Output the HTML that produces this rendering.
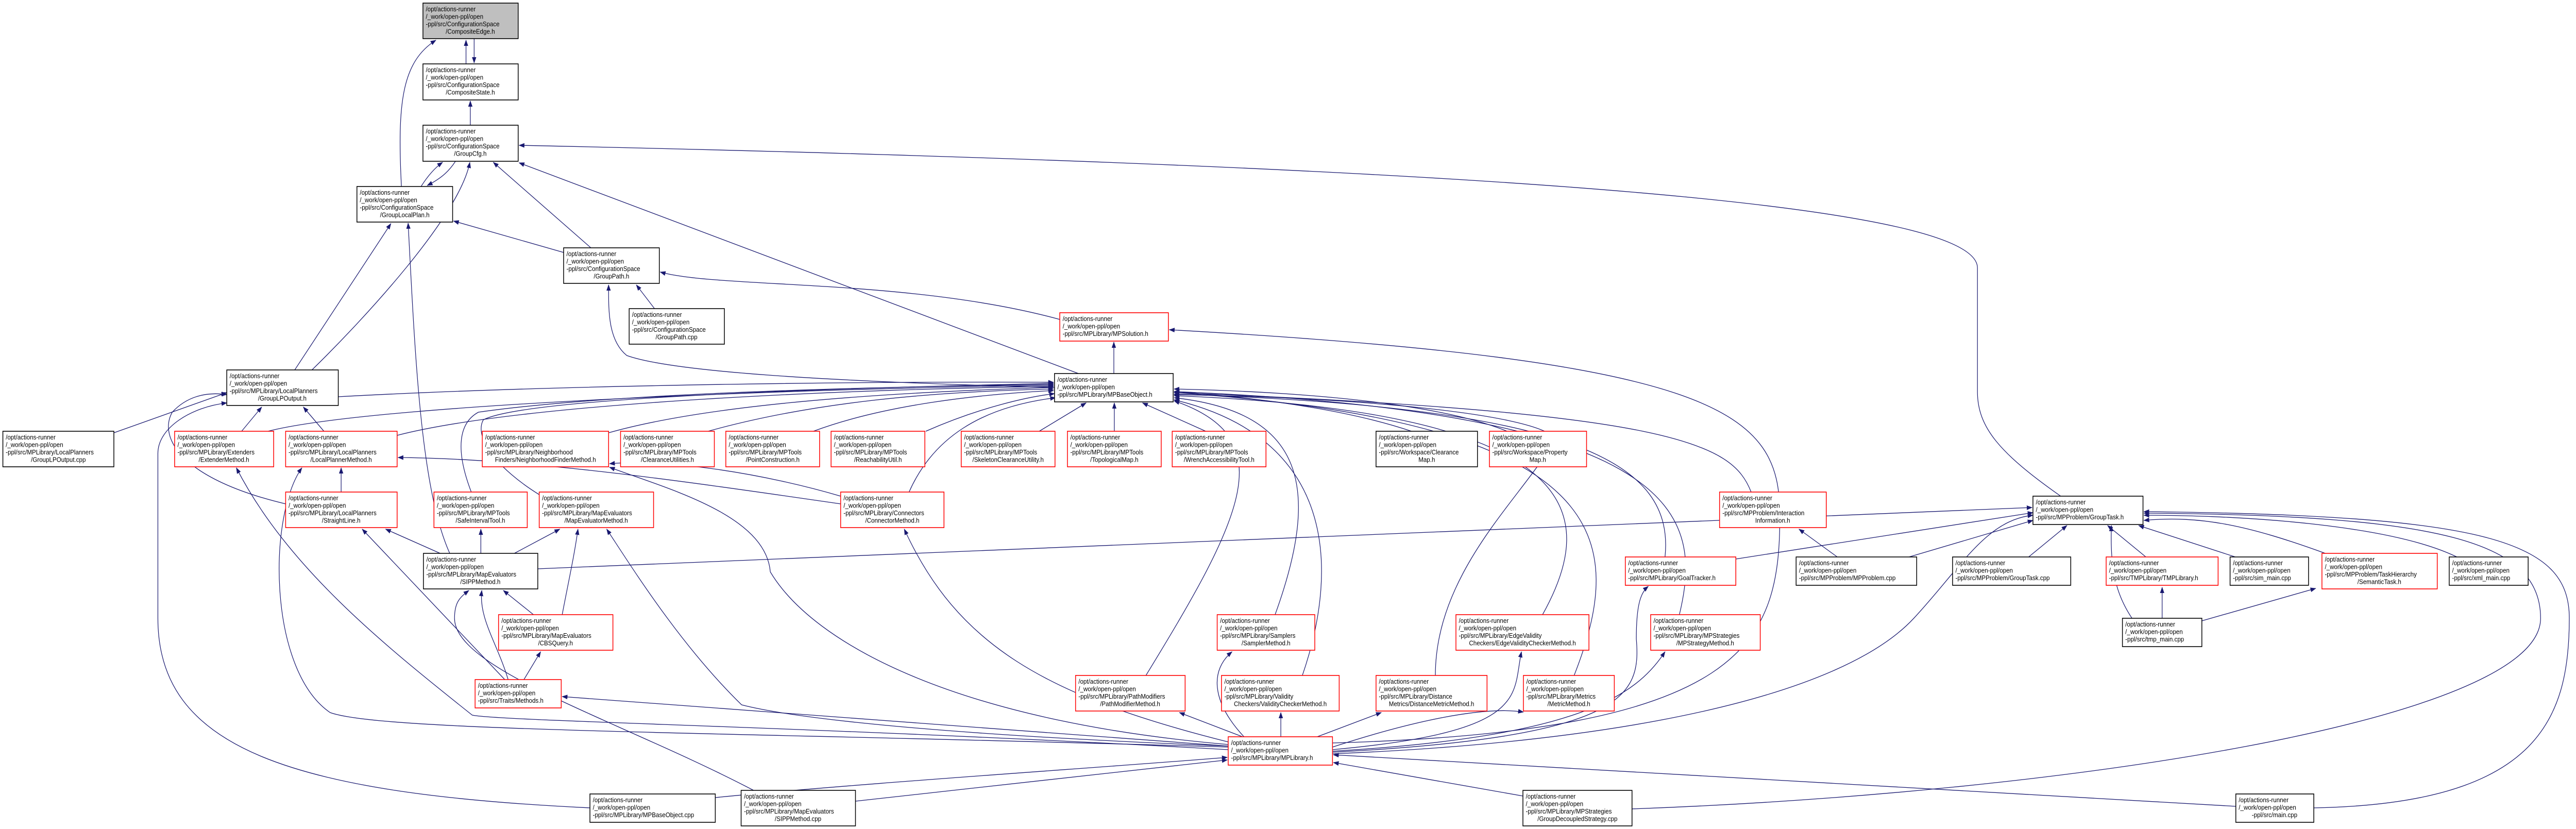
<!DOCTYPE html>
<html><head><meta charset="utf-8"><style>
html,body{margin:0;padding:0;background:#fff;width:100%;height:100%;overflow:hidden}
svg{display:block;position:absolute;left:0;top:0;width:100vw;height:100vh}
text{font-family:"Liberation Sans",sans-serif;font-size:12.5px;fill:#000}
.e{fill:none;stroke:#191970;stroke-width:1.3;marker-end:url(#a)}
.k{fill:#fff;stroke:#000;stroke-width:1.6}
.r{fill:#fff;stroke:#ff0000;stroke-width:1.6}
.g{fill:#bfbfbf;stroke:#000;stroke-width:1.6}
</style></head><body>
<svg viewBox="0 0 5384 1609" preserveAspectRatio="none" xmlns="http://www.w3.org/2000/svg">
<defs><marker id="a" markerWidth="12" markerHeight="9" refX="11" refY="4.5" orient="auto" markerUnits="userSpaceOnUse"><path d="M0,0 L12,4.5 L0,9 z" fill="#191970"/></marker></defs>

<path class="e" d="M974,124 L974,78"/>
<path class="e" d="M991,75 L991,122"/>
<path class="e" d="M839,362 C830,200 840,120 911,78"/>
<path class="e" d="M983,243 L983,196"/>
<path class="e" d="M880,362 C895,340 910,325 925,315"/>
<path class="e" d="M952,313 C940,330 925,345 893,360"/>
<path class="e" d="M652,718 C760,620 960,420 982,315"/>
<path class="e" d="M616,718 L817,434"/>
<path class="e" d="M1235,481 L1031,315"/>
<path class="e" d="M1178,490 L948,429"/>
<path class="e" d="M2254,725 L1085,316"/>
<path class="e" d="M4307,963 C4180,880 4133,830 4133,760 L4133,520 C4133,420 3500,330 1085,282"/>
<path class="e" d="M1368,599 L1330,553"/>
<path class="e" d="M2204,752 C1700,740 1400,720 1310,690 C1270,660 1272,600 1272,553"/>
<path class="e" d="M2215,620 C1900,540 1500,560 1380,528"/>
<path class="e" d="M2328,725 L2328,664"/>
<path class="e" d="M2785,1442 C3650,1420 3720,1250 3720,1000 C3720,800 3600,700 2444,640"/>
<path class="e" d="M238,840 L474,762"/>
<path class="e" d="M505,837 L547,790"/>
<path class="e" d="M677,837 L634,790"/>
<path class="e" d="M597,978 C380,930 330,850 360,800 C390,770 430,760 474,766"/>
<path class="e" d="M707,770 C1200,745 1900,740 2202,742"/>
<path class="e" d="M560,837 C800,780 1800,752 2202,748"/>
<path class="e" d="M830,845 C1100,780 1800,755 2202,750"/>
<path class="e" d="M1272,840 C1500,780 1900,760 2202,752"/>
<path class="e" d="M1480,837 C1700,780 1950,760 2202,755"/>
<path class="e" d="M1700,837 C1850,785 2050,765 2202,758"/>
<path class="e" d="M1935,837 C2050,790 2150,770 2204,764"/>
<path class="e" d="M2172,837 L2270,782"/>
<path class="e" d="M2329,837 L2329,782"/>
<path class="e" d="M2520,837 L2388,782"/>
<path class="e" d="M2950,837 C2800,790 2600,770 2454,760"/>
<path class="e" d="M3150,837 C3000,780 2700,760 2454,755"/>
<path class="e" d="M713,955 L713,908"/>
<path class="e" d="M985,955 C950,870 960,820 1000,800 C1300,760 1900,750 2202,746"/>
<path class="e" d="M1127,960 C1040,910 990,850 1010,815 C1100,770 1800,752 2202,744"/>
<path class="e" d="M1900,955 C1950,850 2050,790 2206,772"/>
<path class="e" d="M3660,955 C3620,860 3500,800 2454,762"/>
<path class="e" d="M3480,1081 C3500,900 3300,790 2454,765"/>
<path class="e" d="M2665,1193 C2760,950 2730,800 2454,772"/>
<path class="e" d="M3224,1193 C3340,1000 3320,800 2454,768"/>
<path class="e" d="M3510,1193 C3560,1000 3520,800 2454,760"/>
<path class="e" d="M2395,1311 C2600,1000 2680,850 2454,778"/>
<path class="e" d="M2722,1311 C2800,1100 2790,850 2454,776"/>
<path class="e" d="M3000,1311 C3000,1100 3200,950 3250,850 C3200,800 2800,770 2454,766"/>
<path class="e" d="M3290,1311 C3400,1050 3380,820 2454,762"/>
<path class="e" d="M2597,1430 L2465,1383"/>
<path class="e" d="M2677,1430 L2677,1383"/>
<path class="e" d="M2600,1430 C2530,1360 2530,1300 2575,1265"/>
<path class="e" d="M2753,1430 L2887,1383"/>
<path class="e" d="M2785,1450 C2950,1400 3100,1370 3184,1382"/>
<path class="e" d="M2785,1455 C3200,1420 3160,1350 3180,1265"/>
<path class="e" d="M2785,1458 C3300,1430 3420,1350 3480,1265"/>
<path class="e" d="M2785,1460 C3400,1430 3430,1350 3420,1240 C3420,1170 3430,1150 3445,1138"/>
<path class="e" d="M2785,1463 C3400,1440 3850,1350 4000,1200 C4100,1100 4150,1010 4249,1000"/>
<path class="e" d="M2567,1440 C2180,1350 2000,1250 1890,1027"/>
<path class="e" d="M2567,1445 C2000,1400 1700,1250 1610,1110 C1600,1000 1400,950 1274,907"/>
<path class="e" d="M2567,1450 C1500,1420 800,1420 690,1383 C560,1300 560,1000 631,908"/>
<path class="e" d="M2567,1455 C1700,1410 1050,1400 987,1388 C800,1250 600,1100 494,908"/>
<path class="e" d="M2567,1448 C1800,1420 1600,1380 1550,1368 C1420,1250 1320,1100 1268,1027"/>
<path class="e" d="M2567,1448 L1175,1352"/>
<path class="e" d="M1495,1548 C1800,1520 2300,1490 2565,1470"/>
<path class="e" d="M1788,1555 L2565,1475"/>
<path class="e" d="M3183,1545 L2787,1480"/>
<path class="e" d="M4673,1565 L2787,1465"/>
<path class="e" d="M3411,1570 C4300,1540 5310,1400 5310,1200 C5310,1050 5100,1000 4481,996"/>
<path class="e" d="M4836,1568 C5300,1560 5370,1400 5370,1200 C5370,1050 5200,1000 4481,993"/>
<path class="e" d="M1233,1568 C600,1540 330,1450 330,1200 L330,880 C330,830 400,790 474,782"/>
<path class="e" d="M1575,1534 C1300,1400 950,1300 950,1200 C950,1170 960,1160 980,1146"/>
<path class="e" d="M940,1074 C880,950 868,700 853,433"/>
<path class="e" d="M920,1074 L806,1027"/>
<path class="e" d="M1005,1074 L1005,1027"/>
<path class="e" d="M1075,1074 L1170,1027"/>
<path class="e" d="M1124,1104 L4247,985"/>
<path class="e" d="M1115,1193 L1052,1146"/>
<path class="e" d="M1175,1193 C1190,1120 1200,1080 1208,1027"/>
<path class="e" d="M1062,1319 C1040,1250 1000,1200 1007,1146"/>
<path class="e" d="M1095,1319 L1130,1265"/>
<path class="e" d="M1055,1319 L757,1027"/>
<path class="e" d="M1757,978 C1400,930 1100,890 832,888"/>
<path class="e" d="M1757,963 C1600,920 1400,890 1274,900"/>
<path class="e" d="M3840,1081 L3760,1027"/>
<path class="e" d="M3990,1081 L4249,1010"/>
<path class="e" d="M4240,1081 L4320,1020"/>
<path class="e" d="M4485,1081 L4405,1020"/>
<path class="e" d="M4672,1081 L4470,1020"/>
<path class="e" d="M4860,1074 C4700,1020 4600,1000 4481,1010"/>
<path class="e" d="M5135,1081 C5000,1020 4700,1000 4481,1000"/>
<path class="e" d="M3628,1085 L4249,995"/>
<path class="e" d="M4456,1200 C4420,1150 4410,1100 4413,1020"/>
<path class="e" d="M4519,1200 L4519,1140"/>
<path class="e" d="M4602,1205 L4840,1142"/>

<g>
<rect class="g" x="884" y="6" width="199" height="69"/>
<text x="890" y="22">/opt/actions-runner</text><text x="890" y="36.5">/_work/open-ppl/open</text><text x="890" y="51">-ppl/src/ConfigurationSpace</text><text x="983" y="65.5" text-anchor="middle">/CompositeEdge.h</text>

<rect class="k" x="884" y="124" width="199" height="70"/>
<text x="890" y="140">/opt/actions-runner</text><text x="890" y="154.5">/_work/open-ppl/open</text><text x="890" y="169">-ppl/src/ConfigurationSpace</text><text x="983" y="183.5" text-anchor="middle">/CompositeState.h</text>

<rect class="k" x="884" y="243" width="199" height="70"/>
<text x="890" y="259">/opt/actions-runner</text><text x="890" y="273.5">/_work/open-ppl/open</text><text x="890" y="288">-ppl/src/ConfigurationSpace</text><text x="983" y="302.5" text-anchor="middle">/GroupCfg.h</text>

<rect class="k" x="746" y="362" width="200" height="69"/>
<text x="752" y="378">/opt/actions-runner</text><text x="752" y="392.5">/_work/open-ppl/open</text><text x="752" y="407">-ppl/src/ConfigurationSpace</text><text x="846" y="421.5" text-anchor="middle">/GroupLocalPlan.h</text>

<rect class="k" x="1178" y="481" width="200" height="69"/>
<text x="1184" y="497">/opt/actions-runner</text><text x="1184" y="511.5">/_work/open-ppl/open</text><text x="1184" y="526">-ppl/src/ConfigurationSpace</text><text x="1278" y="540.5" text-anchor="middle">/GroupPath.h</text>

<rect class="k" x="1315" y="599" width="199" height="69"/>
<text x="1321" y="615">/opt/actions-runner</text><text x="1321" y="629.5">/_work/open-ppl/open</text><text x="1321" y="644">-ppl/src/ConfigurationSpace</text><text x="1414" y="658.5" text-anchor="middle">/GroupPath.cpp</text>

<rect class="r" x="2215" y="607" width="227" height="55"/>
<text x="2221" y="623">/opt/actions-runner</text><text x="2221" y="637.5">/_work/open-ppl/open</text><text x="2221" y="652">-ppl/src/MPLibrary/MPSolution.h</text>

<rect class="k" x="2204" y="725" width="248" height="55"/>
<text x="2210" y="741">/opt/actions-runner</text><text x="2210" y="755.5">/_work/open-ppl/open</text><text x="2210" y="770">-ppl/src/MPLibrary/MPBaseObject.h</text>

<rect class="k" x="474" y="718" width="233" height="69"/>
<text x="480" y="734">/opt/actions-runner</text><text x="480" y="748.5">/_work/open-ppl/open</text><text x="480" y="763">-ppl/src/MPLibrary/LocalPlanners</text><text x="590" y="777.5" text-anchor="middle">/GroupLPOutput.h</text>

<rect class="k" x="6" y="837" width="232" height="69"/>
<text x="12" y="853">/opt/actions-runner</text><text x="12" y="867.5">/_work/open-ppl/open</text><text x="12" y="882">-ppl/src/MPLibrary/LocalPlanners</text><text x="122" y="896.5" text-anchor="middle">/GroupLPOutput.cpp</text>

<rect class="r" x="365" y="837" width="207" height="69"/>
<text x="371" y="853">/opt/actions-runner</text><text x="371" y="867.5">/_work/open-ppl/open</text><text x="371" y="882">-ppl/src/MPLibrary/Extenders</text><text x="468" y="896.5" text-anchor="middle">/ExtenderMethod.h</text>

<rect class="r" x="597" y="837" width="233" height="69"/>
<text x="603" y="853">/opt/actions-runner</text><text x="603" y="867.5">/_work/open-ppl/open</text><text x="603" y="882">-ppl/src/MPLibrary/LocalPlanners</text><text x="713" y="896.5" text-anchor="middle">/LocalPlannerMethod.h</text>

<rect class="r" x="1008" y="837" width="264" height="69"/>
<text x="1014" y="853">/opt/actions-runner</text><text x="1014" y="867.5">/_work/open-ppl/open</text><text x="1014" y="882">-ppl/src/MPLibrary/Neighborhood</text><text x="1140" y="896.5" text-anchor="middle">Finders/NeighborhoodFinderMethod.h</text>

<rect class="r" x="1297" y="837" width="196" height="69"/>
<text x="1303" y="853">/opt/actions-runner</text><text x="1303" y="867.5">/_work/open-ppl/open</text><text x="1303" y="882">-ppl/src/MPLibrary/MPTools</text><text x="1395" y="896.5" text-anchor="middle">/ClearanceUtilities.h</text>

<rect class="r" x="1517" y="837" width="196" height="69"/>
<text x="1523" y="853">/opt/actions-runner</text><text x="1523" y="867.5">/_work/open-ppl/open</text><text x="1523" y="882">-ppl/src/MPLibrary/MPTools</text><text x="1615" y="896.5" text-anchor="middle">/PointConstruction.h</text>

<rect class="r" x="1737" y="837" width="196" height="69"/>
<text x="1743" y="853">/opt/actions-runner</text><text x="1743" y="867.5">/_work/open-ppl/open</text><text x="1743" y="882">-ppl/src/MPLibrary/MPTools</text><text x="1835" y="896.5" text-anchor="middle">/ReachabilityUtil.h</text>

<rect class="r" x="2009" y="837" width="196" height="69"/>
<text x="2015" y="853">/opt/actions-runner</text><text x="2015" y="867.5">/_work/open-ppl/open</text><text x="2015" y="882">-ppl/src/MPLibrary/MPTools</text><text x="2107" y="896.5" text-anchor="middle">/SkeletonClearanceUtility.h</text>

<rect class="r" x="2231" y="837" width="196" height="69"/>
<text x="2237" y="853">/opt/actions-runner</text><text x="2237" y="867.5">/_work/open-ppl/open</text><text x="2237" y="882">-ppl/src/MPLibrary/MPTools</text><text x="2329" y="896.5" text-anchor="middle">/TopologicalMap.h</text>

<rect class="r" x="2450" y="837" width="196" height="69"/>
<text x="2456" y="853">/opt/actions-runner</text><text x="2456" y="867.5">/_work/open-ppl/open</text><text x="2456" y="882">-ppl/src/MPLibrary/MPTools</text><text x="2548" y="896.5" text-anchor="middle">/WrenchAccessibilityTool.h</text>

<rect class="k" x="2876" y="837" width="212" height="69"/>
<text x="2882" y="853">/opt/actions-runner</text><text x="2882" y="867.5">/_work/open-ppl/open</text><text x="2882" y="882">-ppl/src/Workspace/Clearance</text><text x="2982" y="896.5" text-anchor="middle">Map.h</text>

<rect class="r" x="3113" y="837" width="203" height="69"/>
<text x="3119" y="853">/opt/actions-runner</text><text x="3119" y="867.5">/_work/open-ppl/open</text><text x="3119" y="882">-ppl/src/Workspace/Property</text><text x="3214" y="896.5" text-anchor="middle">Map.h</text>

<rect class="r" x="597" y="955" width="233" height="69"/>
<text x="603" y="971">/opt/actions-runner</text><text x="603" y="985.5">/_work/open-ppl/open</text><text x="603" y="1000">-ppl/src/MPLibrary/LocalPlanners</text><text x="713" y="1014.5" text-anchor="middle">/StraightLine.h</text>

<rect class="r" x="907" y="955" width="195" height="69"/>
<text x="913" y="971">/opt/actions-runner</text><text x="913" y="985.5">/_work/open-ppl/open</text><text x="913" y="1000">-ppl/src/MPLibrary/MPTools</text><text x="1004" y="1014.5" text-anchor="middle">/SafeIntervalTool.h</text>

<rect class="r" x="1127" y="955" width="239" height="69"/>
<text x="1133" y="971">/opt/actions-runner</text><text x="1133" y="985.5">/_work/open-ppl/open</text><text x="1133" y="1000">-ppl/src/MPLibrary/MapEvaluators</text><text x="1246" y="1014.5" text-anchor="middle">/MapEvaluatorMethod.h</text>

<rect class="r" x="1757" y="955" width="216" height="69"/>
<text x="1763" y="971">/opt/actions-runner</text><text x="1763" y="985.5">/_work/open-ppl/open</text><text x="1763" y="1000">-ppl/src/MPLibrary/Connectors</text><text x="1865" y="1014.5" text-anchor="middle">/ConnectorMethod.h</text>

<rect class="r" x="3594" y="955" width="223" height="69"/>
<text x="3600" y="971">/opt/actions-runner</text><text x="3600" y="985.5">/_work/open-ppl/open</text><text x="3600" y="1000">-ppl/src/MPProblem/Interaction</text><text x="3705" y="1014.5" text-anchor="middle">Information.h</text>

<rect class="k" x="4249" y="963" width="230" height="55"/>
<text x="4255" y="979">/opt/actions-runner</text><text x="4255" y="993.5">/_work/open-ppl/open</text><text x="4255" y="1008">-ppl/src/MPProblem/GroupTask.h</text>

<rect class="k" x="885" y="1074" width="239" height="69"/>
<text x="891" y="1090">/opt/actions-runner</text><text x="891" y="1104.5">/_work/open-ppl/open</text><text x="891" y="1119">-ppl/src/MPLibrary/MapEvaluators</text><text x="1004" y="1133.5" text-anchor="middle">/SIPPMethod.h</text>

<rect class="r" x="3397" y="1081" width="231" height="55"/>
<text x="3403" y="1097">/opt/actions-runner</text><text x="3403" y="1111.5">/_work/open-ppl/open</text><text x="3403" y="1126">-ppl/src/MPLibrary/GoalTracker.h</text>

<rect class="k" x="3754" y="1081" width="252" height="55"/>
<text x="3760" y="1097">/opt/actions-runner</text><text x="3760" y="1111.5">/_work/open-ppl/open</text><text x="3760" y="1126">-ppl/src/MPProblem/MPProblem.cpp</text>

<rect class="k" x="4081" y="1081" width="247" height="55"/>
<text x="4087" y="1097">/opt/actions-runner</text><text x="4087" y="1111.5">/_work/open-ppl/open</text><text x="4087" y="1126">-ppl/src/MPProblem/GroupTask.cpp</text>

<rect class="r" x="4402" y="1081" width="234" height="55"/>
<text x="4408" y="1097">/opt/actions-runner</text><text x="4408" y="1111.5">/_work/open-ppl/open</text><text x="4408" y="1126">-ppl/src/TMPLibrary/TMPLibrary.h</text>

<rect class="k" x="4661" y="1081" width="164" height="55"/>
<text x="4667" y="1097">/opt/actions-runner</text><text x="4667" y="1111.5">/_work/open-ppl/open</text><text x="4667" y="1126">-ppl/src/sim_main.cpp</text>

<rect class="r" x="4853" y="1074" width="241" height="69"/>
<text x="4859" y="1090">/opt/actions-runner</text><text x="4859" y="1104.5">/_work/open-ppl/open</text><text x="4859" y="1119">-ppl/src/MPProblem/TaskHierarchy</text><text x="4973" y="1133.5" text-anchor="middle">/SemanticTask.h</text>

<rect class="k" x="5119" y="1081" width="165" height="55"/>
<text x="5125" y="1097">/opt/actions-runner</text><text x="5125" y="1111.5">/_work/open-ppl/open</text><text x="5125" y="1126">-ppl/src/xml_main.cpp</text>

<rect class="r" x="1042" y="1193" width="239" height="69"/>
<text x="1048" y="1209">/opt/actions-runner</text><text x="1048" y="1223.5">/_work/open-ppl/open</text><text x="1048" y="1238">-ppl/src/MPLibrary/MapEvaluators</text><text x="1161" y="1252.5" text-anchor="middle">/CBSQuery.h</text>

<rect class="r" x="2544" y="1193" width="204" height="69"/>
<text x="2550" y="1209">/opt/actions-runner</text><text x="2550" y="1223.5">/_work/open-ppl/open</text><text x="2550" y="1238">-ppl/src/MPLibrary/Samplers</text><text x="2646" y="1252.5" text-anchor="middle">/SamplerMethod.h</text>

<rect class="r" x="3043" y="1193" width="278" height="69"/>
<text x="3049" y="1209">/opt/actions-runner</text><text x="3049" y="1223.5">/_work/open-ppl/open</text><text x="3049" y="1238">-ppl/src/MPLibrary/EdgeValidity</text><text x="3182" y="1252.5" text-anchor="middle">Checkers/EdgeValidityCheckerMethod.h</text>

<rect class="r" x="3450" y="1193" width="229" height="69"/>
<text x="3456" y="1209">/opt/actions-runner</text><text x="3456" y="1223.5">/_work/open-ppl/open</text><text x="3456" y="1238">-ppl/src/MPLibrary/MPStrategies</text><text x="3564" y="1252.5" text-anchor="middle">/MPStrategyMethod.h</text>

<rect class="k" x="4436" y="1200" width="166" height="55"/>
<text x="4442" y="1216">/opt/actions-runner</text><text x="4442" y="1230.5">/_work/open-ppl/open</text><text x="4442" y="1245">-ppl/src/tmp_main.cpp</text>

<rect class="r" x="993" y="1319" width="180" height="55"/>
<text x="999" y="1335">/opt/actions-runner</text><text x="999" y="1349.5">/_work/open-ppl/open</text><text x="999" y="1364">-ppl/src/Traits/Methods.h</text>

<rect class="r" x="2248" y="1311" width="229" height="69"/>
<text x="2254" y="1327">/opt/actions-runner</text><text x="2254" y="1341.5">/_work/open-ppl/open</text><text x="2254" y="1356">-ppl/src/MPLibrary/PathModifiers</text><text x="2362" y="1370.5" text-anchor="middle">/PathModifierMethod.h</text>

<rect class="r" x="2553" y="1311" width="246" height="69"/>
<text x="2559" y="1327">/opt/actions-runner</text><text x="2559" y="1341.5">/_work/open-ppl/open</text><text x="2559" y="1356">-ppl/src/MPLibrary/Validity</text><text x="2676" y="1370.5" text-anchor="middle">Checkers/ValidityCheckerMethod.h</text>

<rect class="r" x="2876" y="1311" width="232" height="69"/>
<text x="2882" y="1327">/opt/actions-runner</text><text x="2882" y="1341.5">/_work/open-ppl/open</text><text x="2882" y="1356">-ppl/src/MPLibrary/Distance</text><text x="2992" y="1370.5" text-anchor="middle">Metrics/DistanceMetricMethod.h</text>

<rect class="r" x="3184" y="1311" width="190" height="69"/>
<text x="3190" y="1327">/opt/actions-runner</text><text x="3190" y="1341.5">/_work/open-ppl/open</text><text x="3190" y="1356">-ppl/src/MPLibrary/Metrics</text><text x="3279" y="1370.5" text-anchor="middle">/MetricMethod.h</text>

<rect class="r" x="2567" y="1430" width="218" height="55"/>
<text x="2573" y="1446">/opt/actions-runner</text><text x="2573" y="1460.5">/_work/open-ppl/open</text><text x="2573" y="1475">-ppl/src/MPLibrary/MPLibrary.h</text>

<rect class="k" x="1233" y="1541" width="262" height="55"/>
<text x="1239" y="1557">/opt/actions-runner</text><text x="1239" y="1571.5">/_work/open-ppl/open</text><text x="1239" y="1586">-ppl/src/MPLibrary/MPBaseObject.cpp</text>

<rect class="k" x="1549" y="1534" width="239" height="69"/>
<text x="1555" y="1550">/opt/actions-runner</text><text x="1555" y="1564.5">/_work/open-ppl/open</text><text x="1555" y="1579">-ppl/src/MPLibrary/MapEvaluators</text><text x="1668" y="1593.5" text-anchor="middle">/SIPPMethod.cpp</text>

<rect class="k" x="3183" y="1534" width="228" height="69"/>
<text x="3189" y="1550">/opt/actions-runner</text><text x="3189" y="1564.5">/_work/open-ppl/open</text><text x="3189" y="1579">-ppl/src/MPLibrary/MPStrategies</text><text x="3297" y="1593.5" text-anchor="middle">/GroupDecoupledStrategy.cpp</text>

<rect class="k" x="4673" y="1541" width="163" height="55"/>
<text x="4679" y="1557">/opt/actions-runner</text><text x="4679" y="1571.5">/_work/open-ppl/open</text><text x="4754" y="1586" text-anchor="middle">-ppl/src/main.cpp</text>
</g>
</svg>
</body></html>
